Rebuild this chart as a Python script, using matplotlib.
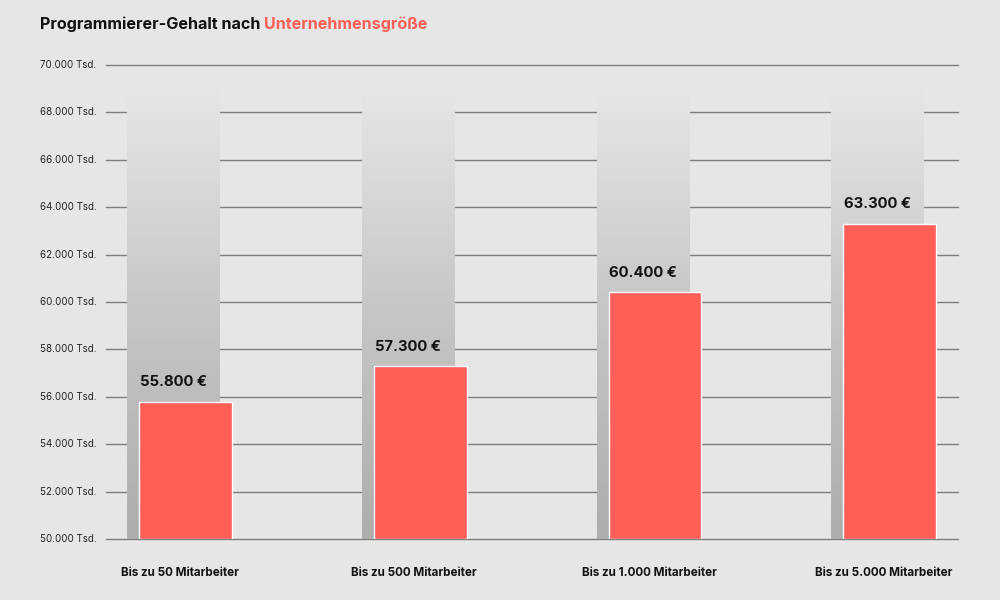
import numpy as np
import matplotlib
matplotlib.use("Agg")
import matplotlib.pyplot as plt
from matplotlib.colors import LinearSegmentedColormap
import matplotlib.transforms as mtransforms

# ---- data ----
categories = ["Bis zu 50 Mitarbeiter", "Bis zu 500 Mitarbeiter",
              "Bis zu 1.000 Mitarbeiter", "Bis zu 5.000 Mitarbeiter"]
salaries = [55800, 57300, 60400, 63300]
value_labels = ["55.800 €", "57.300 €", "60.400 €", "63.300 €"]
yticks = [50000, 52000, 54000, 56000, 58000, 60000, 62000, 64000, 66000, 68000, 70000]
ytick_labels = ["50.000 Tsd.", "52.000 Tsd.", "54.000 Tsd.", "56.000 Tsd.", "58.000 Tsd.",
                "60.000 Tsd.", "62.000 Tsd.", "64.000 Tsd.", "66.000 Tsd.", "68.000 Tsd.",
                "70.000 Tsd."]
backdrop_top = 69000

BG = "#e6e6e6"
RED = "#ff5f56"
GRID = "#7d7d7d"
FONT = ["Inter", "DejaVu Sans"]
plt.rcParams["font.family"] = FONT

fig = plt.figure(figsize=(10, 6), dpi=100, facecolor=BG)
ax = fig.add_axes([0.106, 0.1017, 0.852, 0.79])
ax.set_facecolor(BG)
for s in ax.spines.values():
    s.set_visible(False)

# grid lines
for t in yticks:
    ax.axhline(t, color=GRID, lw=1.0, zorder=0.5, clip_on=False)

x = np.arange(len(categories))
w = 0.396
off = 0.051

# gradient backdrop bars
cmap = LinearSegmentedColormap.from_list("g", ["#adadad", "#c6c6c6", BG])
grad = np.linspace(0, 1, 256).reshape(-1, 1)
for xi in x:
    ax.imshow(grad, cmap=cmap, origin="lower", aspect="auto",
              extent=(xi - w / 2, xi + w / 2, yticks[0], backdrop_top),
              zorder=2, interpolation="bilinear")
ax.set_xlim(-0.288, 3.342)
ax.set_ylim(50000, 70000)

# red bars
ax.bar(x + off, np.array(salaries) - yticks[0], bottom=yticks[0], width=w,
       color=RED, edgecolor="white", linewidth=1.0, zorder=3)

# value labels
for xi, v, lab in zip(x, salaries, value_labels):
    ax.annotate(lab, (xi, v), xytext=(0, 14), textcoords="offset points",
                ha="center", va="center", fontsize=10.7, fontweight="bold",
                color="#111111", zorder=4)

# y tick labels at left
trans = mtransforms.blended_transform_factory(fig.transFigure, ax.transData)
for t, lab in zip(yticks, ytick_labels):
    ax.text(0.04, t, lab, transform=trans, ha="left", va="center",
            fontsize=7.0, color="#222222")
ax.set_yticks([])

# category labels
ax.set_xticks(x + off / 2)
ax.set_xticklabels(categories, fontsize=8.4, fontweight="bold", color="#111111")
ax.tick_params(axis="x", length=0, pad=20)

# title
fig.text(0.04, 0.96, "Programmierer-Gehalt nach ", ha="left", va="center",
         fontsize=11.6, fontweight="bold", color="#111111")
t1 = fig.texts[-1]
fig.canvas.draw()
bb = t1.get_window_extent()
fig.text(bb.x1 / fig.bbox.width, 0.96, "Unternehmensgröße", ha="left", va="center",
         fontsize=11.6, fontweight="bold", color=RED)

fig.savefig("out.png", dpi=100, facecolor=BG)
